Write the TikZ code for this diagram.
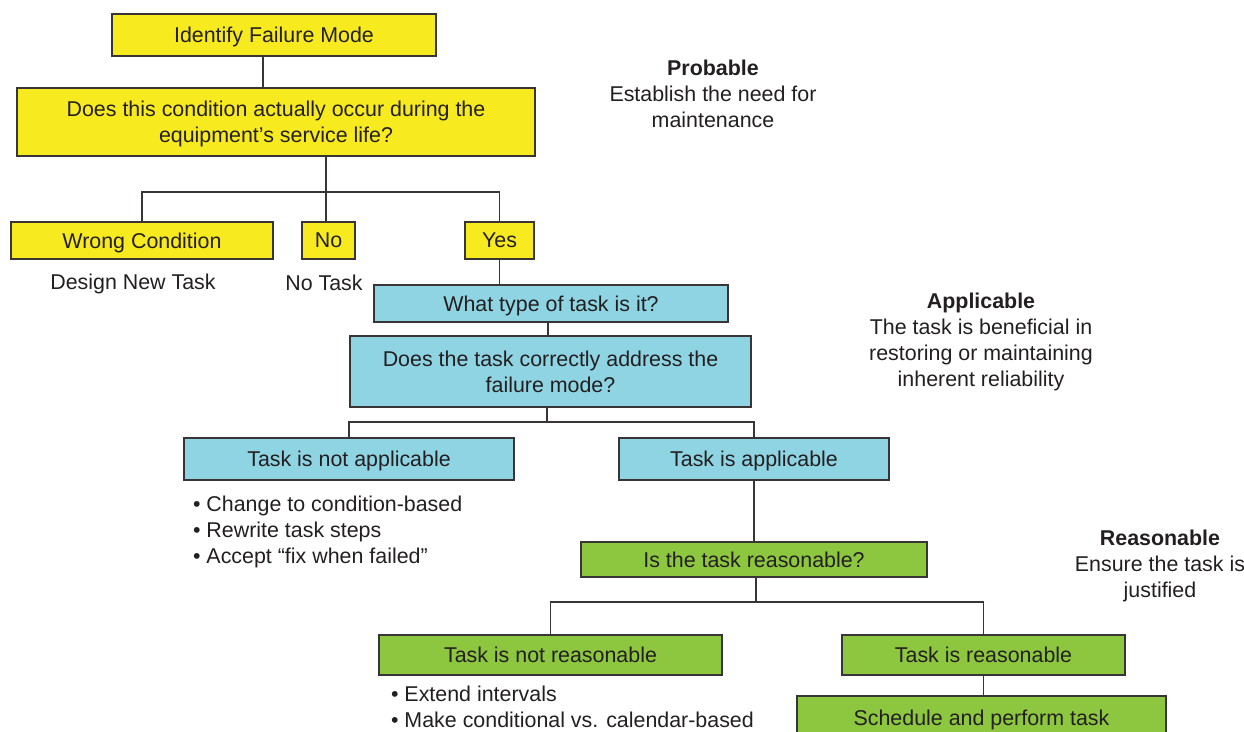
\documentclass[tikz,border=0pt]{standalone}
\usepackage{fontspec}
\setmainfont{Liberation Sans}
\usepackage{tikz}
\usetikzlibrary{calc}

\definecolor{rcmyellow}{RGB}{247,234,31}
\definecolor{rcmblue}{RGB}{143,212,227}
\definecolor{rcmgreen}{RGB}{141,198,63}
\definecolor{inkgray}{RGB}{35,31,32}

\begin{document}
\begin{tikzpicture}[
  x=0.5pt,y=-0.5pt,
  every node/.style={font=\fontsize{10.7}{13}\selectfont,text=inkgray},
  box/.style={draw=inkgray!90,line width=0.6pt,inner sep=0pt,align=center,text depth=0pt},
  probable/.style={box,fill=rcmyellow},
  applic/.style={box,fill=rcmblue},
  reason/.style={box,fill=rcmgreen},
  link/.style={line width=0.55pt,inkgray!90},
  note/.style={align=center},
  bullets/.style={align=left,anchor=west}
]
  \useasboundingbox (0,0) rectangle (1244,732);
  \clip (0,0) rectangle (1244,732);

  % Probable stage: yellow boxes.
  \node[probable,minimum width=162pt,minimum height=21pt] (ifm) at (274,35)
    {Identify Failure Mode};
  \node[probable,minimum width=259pt,minimum height=34pt] (occur) at (276,122)
    {Does this condition actually occur during the\\equipment’s service life?};
  \node[probable,minimum width=131pt,minimum height=18.5pt] (wrong) at (142,240.5)
    {Wrong Condition};
  \node[probable,minimum width=26.5pt,minimum height=18.5pt] (no) at (328.5,240.5)
    {No};
  \node[probable,minimum width=34.5pt,minimum height=18.5pt] (yes) at (499.5,240.5)
    {Yes};
  \node (design) at (133,284) {Design New Task};
  \node (notask) at (324,283) {No Task};

  % Applicable stage: blue boxes.
  \node[applic,minimum width=177pt,minimum height=18.5pt] (type) at (551,303.5)
    {What type of task is it?};
  \node[applic,minimum width=200.5pt,minimum height=35.5pt] (address) at (550.5,371.5)
    {Does the task correctly address the\\failure mode?};
  \node[applic,minimum width=165pt,minimum height=21pt] (notapp) at (349,459)
    {Task is not applicable};
  \node[applic,minimum width=135pt,minimum height=21pt] (app) at (754,459)
    {Task is applicable};
  \node[bullets] (fixes) at (186,532)
    {\textbullet\ Change to condition-based\\\textbullet\ Rewrite task steps\\\textbullet\ Accept “fix when failed”};

  % Reasonable stage: green boxes.
  \node[reason,minimum width=173pt,minimum height=17.5pt] (reasq) at (754,559.5)
    {Is the task reasonable?};
  \node[reason,minimum width=171.5pt,minimum height=20pt] (notreas) at (550.5,655)
    {Task is not reasonable};
  \node[reason,minimum width=141.5pt,minimum height=20pt] (reas) at (983.5,655)
    {Task is reasonable};
  \node[reason,minimum width=184.5pt,minimum height=22pt] (sched) at (981.5,718)
    {Schedule and perform task};
  \node[bullets] (changes) at (384,707)
    {\textbullet\ Extend intervals\\\textbullet\ Make conditional vs. calendar-based};

  % Stage notes on the right.
  \node[note] (probnote) at (713,94)
    {\textbf{Probable}\\Establish the need for\\maintenance};
  \node[note] (appnote) at (981,342)
    {\textbf{Applicable}\\The task is beneficial in\\restoring or maintaining\\inherent reliability};
  \node[note] (reasnote) at (1160,566)
    {\textbf{Reasonable}\\Ensure the task is\\justified};

  % Connectors.
  \coordinate (bus1) at (326,192);
  \coordinate (bus2) at (547,422);
  \coordinate (bus3) at (756,602);
  \draw[link] ([xshift=-5.5pt]ifm.south) -- ([xshift=-5.5pt]ifm.south |- occur.north);
  \draw[link] (occur.south -| bus1) -- (bus1);
  \draw[link] (wrong.north) |- (bus1) -| (yes.north);
  \draw[link] (bus1) -- (bus1 |- no.north);
  \draw[link] (yes.south) -- (yes.south |- type.north);
  \draw[link] ([xshift=-1.5pt]type.south) -- ([xshift=-1.5pt]type.south |- address.north);
  \draw[link] (address.south -| bus2) -- (bus2);
  \draw[link] (notapp.north) |- (bus2) -| (app.north);
  \draw[link] (app.south) -- (app.south |- reasq.north);
  \draw[link] (reasq.south -| bus3) -- (bus3);
  \draw[link] (notreas.north) |- (bus3) -| (reas.north);
  \draw[link] (reas.south) -- (reas.south |- sched.north);
\end{tikzpicture}
\end{document}
